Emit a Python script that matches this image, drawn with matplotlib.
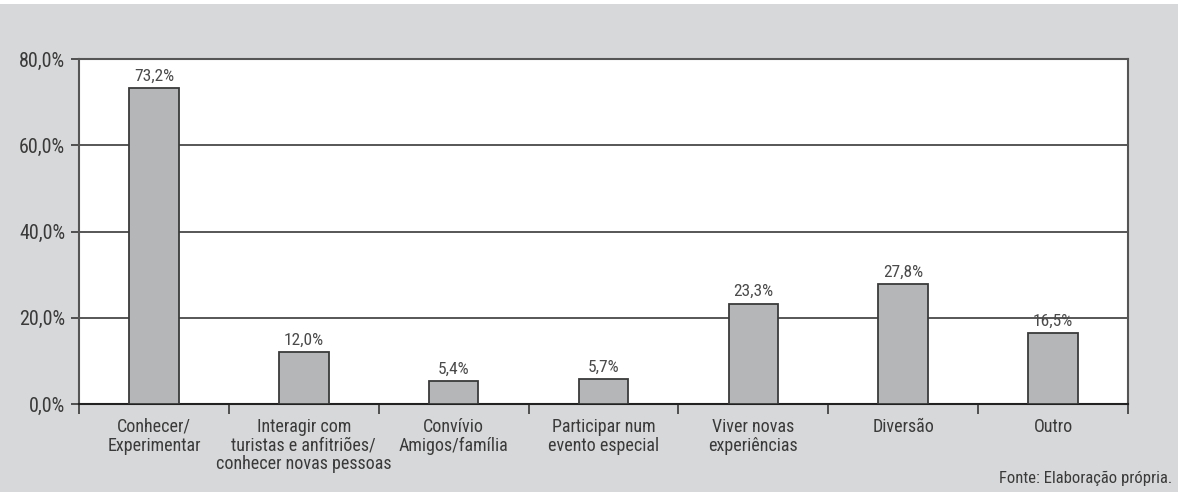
import numpy as np
import matplotlib
matplotlib.use("Agg")
from matplotlib import pyplot as plt

# data
categories = ["Conhecer/\nExperimentar",
              "Interagir com\nturistas e anfitriões/\nconhecer novas pessoas",
              "Convívio\nAmigos/família",
              "Participar num\nevento especial",
              "Viver novas\nexperiências",
              "Diversão",
              "Outro"]
values = [73.2, 12.0, 5.4, 5.7, 23.3, 27.8, 16.5]
value_labels = ["73,2%", "12,0%", "5,4%", "5,7%", "23,3%", "27,8%", "16,5%"]
yticks = [0, 20, 40, 60, 80]
ytick_labels = ["0,0%", "20,0%", "40,0%", "60,0%", "80,0%"]

plt.rcParams['font.family'] = ["Roboto Condensed", "DejaVu Sans"]

bg = "#d7d8d9"
fig = plt.figure(figsize=(11.78, 4.92), dpi=100, facecolor=bg)
# thin white strip across the top
fig.patches.append(plt.Rectangle((0, 1 - 4 / 492), 1, 4 / 492, transform=fig.transFigure,
                                 facecolor="white", edgecolor="none"))
ax = fig.add_axes([79 / 1178, 1 - 404 / 492, (1128 - 79) / 1178, (404 - 59) / 492])
ax.set_facecolor("white")

x = np.arange(len(categories))
ax.bar(x, values, width=0.33, color="#b5b6b8", edgecolor="#3a3a3a", linewidth=1.3, zorder=3)
for xi, v, lab in zip(x, values, value_labels):
    ax.text(xi, v + 1.0, lab, ha="center", va="bottom", fontsize=12.5, color="#4a4a4a", zorder=4)

ax.set_xlim(-0.5, len(categories) - 0.5)
ax.set_ylim(0, 80)
ax.set_yticks(yticks)
ax.set_yticklabels(ytick_labels, fontsize=14.5, color="#3a3a3a")
ax.yaxis.grid(True, color="#3a3a3a", linewidth=1.2, zorder=1)

# category labels centred, ticks at boundaries
ax.set_xticks(x)
ax.set_xticklabels(categories, fontsize=13, color="#3a3a3a", linespacing=1.05)
ax.tick_params(axis="x", which="major", length=0, pad=10)
ax.set_xticks(np.arange(len(categories) + 1) - 0.5, minor=True)
ax.tick_params(axis="x", which="minor", length=7, width=1.3, color="#444444")
ax.tick_params(axis="y", length=6, width=1.3, color="#444444", pad=4)

for side in ["top", "right", "left", "bottom"]:
    ax.spines[side].set_color("#555555")
    ax.spines[side].set_linewidth(1.5)
ax.spines["bottom"].set_color("#222222")

fig.text(1172 / 1178, 1 - 478 / 492, "Fonte: Elaboração própria.", ha="right", va="center",
         fontsize=12, color="#3a3a3a")

fig.savefig("out.png", dpi=100, facecolor=bg)
